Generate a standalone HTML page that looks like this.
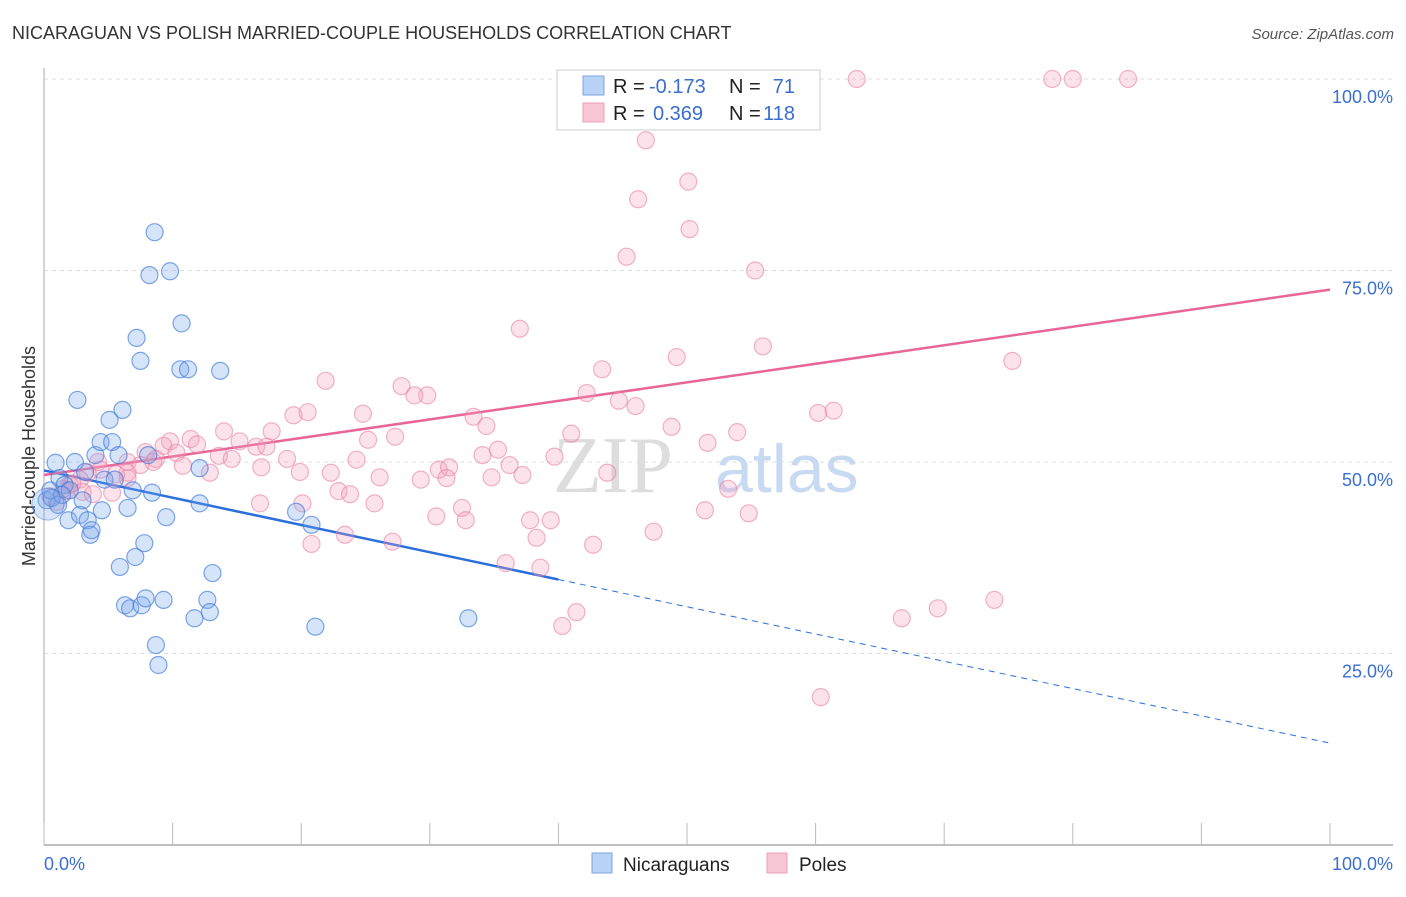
<!DOCTYPE html>
<html><head><meta charset="utf-8"><style>
body{margin:0;background:#fff;font-family:"Liberation Sans",sans-serif;}
svg text{font-family:"Liberation Sans",sans-serif;}
</style></head><body>
<svg id="chart" width="1406" height="892">
<text x="12" y="39" font-size="18" fill="#333">NICARAGUAN VS POLISH MARRIED-COUPLE HOUSEHOLDS CORRELATION CHART</text>
<text x="1394" y="39" font-size="15" fill="#555" text-anchor="end" font-style="italic">Source: ZipAtlas.com</text>
<text x="35" y="456" font-size="18" fill="#333" text-anchor="middle" transform="rotate(-90 35 456)">Married-couple Households</text>
<g id="grid"></g>
<text x="553" y="492" font-size="80" fill="#ddd" style="font-family:'Liberation Serif',serif">ZIP</text>
<text x="715" y="492" font-size="68" fill="#c8daf2">atlas</text>
<g id="lines"></g>
<g id="pts"></g>
<g>
<rect x="557" y="70" width="263" height="60" fill="#fff" stroke="#ccc"/>
<rect x="583" y="76" width="21" height="19" fill="#b8d3f5" stroke="#7aa6e0"/>
<rect x="583" y="103" width="21" height="19" fill="#f9c6d5" stroke="#ee9fb7"/>
<text x="613" y="93" font-size="20" fill="#222">R =</text>
<text x="649" y="93" font-size="20" fill="#3a6fd0">-0.173</text>
<text x="729" y="93" font-size="20" fill="#222">N =</text>
<text x="795" y="93" font-size="20" fill="#3a6fd0" text-anchor="end">71</text>
<text x="613" y="120" font-size="20" fill="#222">R =</text>
<text x="653" y="120" font-size="20" fill="#3a6fd0">0.369</text>
<text x="729" y="120" font-size="20" fill="#222">N =</text>
<text x="795" y="120" font-size="20" fill="#3a6fd0" text-anchor="end">118</text>
</g>
<g>
<rect x="592" y="853" width="20" height="20" fill="#b8d3f5" stroke="#7aa6e0"/>
<text x="623" y="871" font-size="19" fill="#222">Nicaraguans</text>
<rect x="767" y="853" width="20" height="20" fill="#f9c6d5" stroke="#ee9fb7"/>
<text x="799" y="871" font-size="19" fill="#222">Poles</text>
</g>
</svg>
<script>
const yTicks=[25,50,75,100];
const xTickLabels=["0.0%","100.0%"];
const blueX=[0.2,0.5,0.9,1.2,1.6,2.0,1.9,2.4,2.6,2.8,3.0,3.2,3.4,3.6,3.7,4.0,4.4,4.5,4.7,5.1,5.3,5.5,5.8,5.9,6.1,6.3,6.5,6.7,6.9,7.1,7.2,7.5,7.6,7.8,7.9,8.1,8.2,8.4,8.6,8.7,8.9,9.3,9.5,9.8,10.7,10.6,11.2,11.7,12.1,12.1,12.7,12.9,13.1,13.7,19.6,20.8,21.1,33.0,1.1,1.4,0.6];
const blueY=[45.0,46.3,49.9,47.9,47.0,46.3,42.4,50.0,58.1,43.1,45.0,48.7,42.4,40.5,41.1,50.9,52.6,43.7,47.7,55.5,52.6,47.7,50.9,36.3,56.8,31.3,44.0,30.9,46.3,37.6,66.2,63.2,31.3,39.4,32.2,50.9,74.4,46.0,80.0,26.1,23.5,32.0,42.8,74.9,68.1,62.1,62.1,29.6,44.6,49.2,32.0,30.4,35.5,61.9,43.5,41.8,28.5,29.6,44.4,45.7,45.3];
const pinkX=[47.9,54.3,63.2,78.4,80.0,84.3,46.8,50.1,46.2,50.2,45.3,55.3,37.0,49.2,55.9,75.3,21.9,43.4,27.8,29.8,28.8,42.2,44.7,46.0,60.2,61.4,33.4,24.8,19.4,20.5,34.4,48.8,14.0,17.7,41.0,53.9,27.3,25.2,11.4,9.8,15.2,16.5,11.9,9.3,7.9,10.3,13.6,17.3,18.9,14.6,34.1,36.2,35.3,39.7,51.6,8.7,6.5,10.8,12.9,6.5,4.4,3.4,1.7,2.8,22.3,24.3,19.9,16.9,30.7,31.5,31.3,26.1,29.3,34.8,37.2,43.8,53.2,22.9,23.8,25.7,16.8,20.1,30.5,32.5,32.8,37.8,39.4,51.4,54.8,38.3,42.7,47.4,20.8,23.4,27.1,35.9,38.6,41.4,40.3,66.7,69.5,73.9,60.4,5.3,6.5,3.0,2.0,5.6,7.5,8.5,4.2,0.5,1.0,1.5,2.2,3.8];
const pinkY=[100,100,100,100,100,100,92.0,86.6,84.3,80.4,76.8,75.0,67.4,63.7,65.1,63.2,60.6,62.1,59.9,58.7,58.7,59.0,58.0,57.3,56.4,56.7,55.9,56.3,56.1,56.5,54.7,54.6,54.0,54.0,53.7,53.9,53.3,52.9,53.0,52.7,52.7,52.0,52.3,52.1,51.3,51.2,50.8,52.0,50.4,50.4,50.9,49.6,51.6,50.7,52.5,50.4,50.0,49.5,48.6,48.6,49.0,48.6,46.2,47.7,48.6,50.3,48.7,49.3,49.0,49.3,47.9,48.0,47.7,48.0,48.3,48.6,46.5,46.2,45.8,44.6,44.6,44.6,42.9,44.0,42.4,42.4,42.4,43.7,43.3,40.1,39.2,40.9,39.3,40.5,39.6,36.8,36.2,30.4,28.6,29.6,30.9,32.0,19.3,46.0,47.9,46.1,47.0,48.4,49.6,50.0,50.0,45.5,44.8,46.5,47.2,45.8];
const blueTrend=[48.9,13.3];
const pinkTrend=[48.3,72.5];
const X=v=>44+v*12.86, Y=v=>845-v*7.66;
const NS="http://www.w3.org/2000/svg";
function mk(t,a,p){const e=document.createElementNS(NS,t);for(const k in a)e.setAttribute(k,a[k]);p.appendChild(e);return e;}
const g=document.getElementById('grid');
yTicks.forEach(t=>{
 const l=mk('line',{x1:44,x2:1393,y1:Y(t),y2:Y(t),stroke:'#ddd','stroke-dasharray':'4,4'},g);
 
 
 const tx=mk('text',{x:1393,y:Y(t)+24,'font-size':18,fill:'#3a6fd0','text-anchor':'end'},g);
 tx.textContent=t.toFixed(1)+'%';
 
 
});
const ax=mk('line',{x1:44,x2:1393,y1:845,y2:845,stroke:'#aaa','stroke-width':1.5},g);


const ay=mk('line',{x1:44,x2:44,y1:68,y2:845,stroke:'#aaa','stroke-width':1},g);


for(let i=0;i<=10;i++){
 const t=mk('line',{x1:X(i*10),x2:X(i*10),y1:823,y2:845,stroke:'#bbb'},g);
 
 
}
[[0,'start'],[100,'end']].forEach((d,i)=>{
 const t=mk('text',{x:d[0]==0?44:1393,y:870,'font-size':18,fill:'#3a6fd0','text-anchor':d[1]},g);
 t.textContent=xTickLabels[i];
 
 
});
const p=document.getElementById('pts');
pinkX.forEach((x,i)=>{
 const c=mk('circle',{cx:X(x),cy:Y(pinkY[i]),r:8.5,fill:'rgba(244,160,188,0.3)',stroke:'rgba(232,130,165,0.6)','stroke-width':1.2},p);
 
 
});
blueX.forEach((x,i)=>{
 const c=mk('circle',{cx:X(x),cy:Y(blueY[i]),r:8.5,fill:'rgba(120,165,235,0.3)',stroke:'rgba(60,120,215,0.65)','stroke-width':1.2},p);
 
 
});
const big=mk('circle',{cx:X(0.3),cy:Y(44.5),r:16,fill:'rgba(120,165,235,0.3)',stroke:'rgba(60,120,215,0.5)'},p);


const L=document.getElementById('lines');
const bAt=v=>blueTrend[0]+(blueTrend[1]-blueTrend[0])*v/100;
const b1=mk('line',{x1:X(0),y1:Y(bAt(0)),x2:X(40),y2:Y(bAt(40)),stroke:'#2a6fdb','stroke-width':2.5},L);


const b2=mk('line',{x1:X(40),y1:Y(bAt(40)),x2:X(100),y2:Y(bAt(100)),stroke:'#2a6fdb','stroke-width':1,'stroke-dasharray':'6,5'},L);


const pl=mk('line',{x1:X(0),y1:Y(pinkTrend[0]),x2:X(100),y2:Y(pinkTrend[1]),stroke:'#e8659a','stroke-width':2.5},L);


</script>
</body></html>
